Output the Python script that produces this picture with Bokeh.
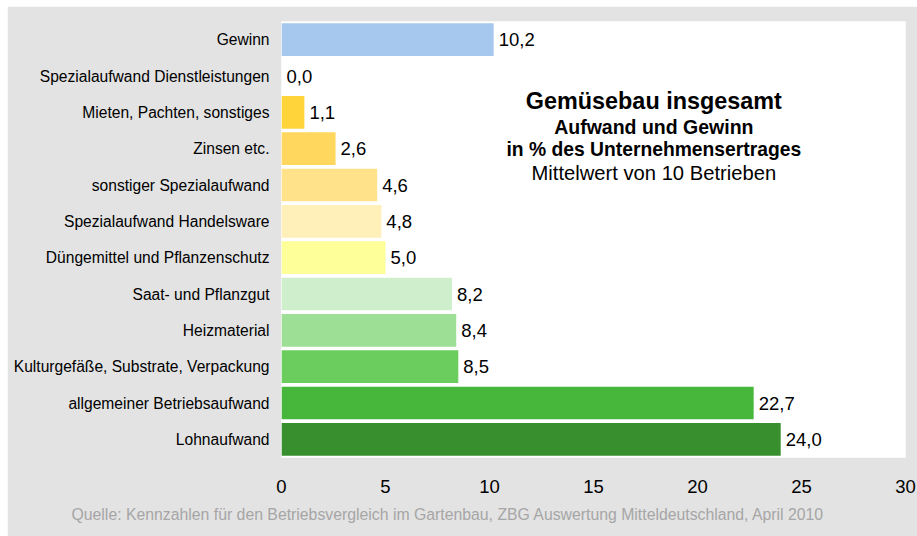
from bokeh.plotting import figure
from bokeh.models import ColumnDataSource, FactorRange, Range1d, Label, FixedTicker, Title
from bokeh.core.properties import value
from bokeh.embed import file_html
from bokeh.resources import INLINE

categories = ["Gewinn", "Spezialaufwand Dienstleistungen", "Mieten, Pachten, sonstiges",
              "Zinsen etc.", "sonstiger Spezialaufwand", "Spezialaufwand Handelsware",
              "Düngemittel und Pflanzenschutz", "Saat- und Pflanzgut", "Heizmaterial",
              "Kulturgefäße, Substrate, Verpackung", "allgemeiner Betriebsaufwand", "Lohnaufwand"]
values = [10.2, 0.0, 1.1, 2.6, 4.6, 4.8, 5.0, 8.2, 8.4, 8.5, 22.7, 24.0]
colors = ["#a6c8ee", "#ffd02a", "#ffd43a", "#ffd75e", "#ffe28a", "#ffefb8", "#ffff99",
          "#cfeecb", "#9ddf94", "#6acd5e", "#46b73a", "#378f2e"]
x_ticks = [0, 5, 10, 15, 20, 25, 30]
value_labels = [f"{v:.1f}".replace(".", ",") for v in values]

title_lines = ["Gemüsebau insgesamt", "Aufwand und Gewinn",
               "in % des Unternehmensertrages", "Mittelwert von 10 Betrieben"]
source_text = ("Quelle: Kennzahlen für den Betriebsvergleich im Gartenbau, "
               "ZBG Auswertung Mitteldeutschland, April 2010")

FONT = "Liberation Sans"

src = ColumnDataSource(dict(cat=categories, val=values, color=colors, label=value_labels))

p = figure(width=910, height=530, margin=(6, 0, 0, 7),
           output_backend="svg", toolbar_location=None,
           y_range=FactorRange(factors=list(reversed(categories))),
           x_range=Range1d(0, 30),
           min_border_left=274, min_border_right=12, min_border_top=15, min_border_bottom=79)

p.hbar(y="cat", left=0, right="val", height=0.9, fill_color="color", line_color=None, source=src)
p.text(x="val", y="cat", text="label", x_offset=5, text_baseline="middle", text_align="left",
       text_font=value(FONT), text_font_size="18.5px", text_color="#000000", source=src)

p.background_fill_color = "#ffffff"
p.border_fill_color = "#e3e3e3"
p.outline_line_color = None
p.xgrid.visible = False
p.ygrid.visible = False

p.xaxis.ticker = FixedTicker(ticks=x_ticks)
p.xaxis.axis_line_color = None
p.xaxis.major_tick_line_color = None
p.xaxis.minor_tick_line_color = None
p.xaxis.major_label_text_font = FONT
p.xaxis.major_label_text_font_size = "18.5px"
p.xaxis.major_label_text_color = "#000000"
p.xaxis.major_label_standoff = 16

p.yaxis.axis_line_color = None
p.yaxis.major_tick_line_color = None
p.yaxis.minor_tick_line_color = None
p.yaxis.major_tick_out = 0
p.yaxis.major_label_text_font = FONT
p.yaxis.major_label_text_font_size = "15.6px"
p.yaxis.major_label_text_color = "#000000"
p.yaxis.major_label_standoff = 12

title_y = [9.80, 9.11, 8.49, 7.83]
title_sizes = ["23.4px", "19.5px", "19.3px", "20.2px"]
title_styles = ["bold", "bold", "bold", "normal"]
for t, yy, fs, st in zip(title_lines, title_y, title_sizes, title_styles):
    p.add_layout(Label(x=17.9, y=yy, text=t, text_align="center", text_baseline="middle",
                       text_font=FONT, text_font_size=fs, text_font_style=st,
                       text_color="#000000"))

p.add_layout(Title(text=source_text, align="left", offset=-210, standoff=16,
                   text_font=FONT, text_font_size="15.8px", text_font_style="normal",
                   text_color="#a6a6a6"), "below")

open("out.html", "w").write(file_html(p, INLINE))
